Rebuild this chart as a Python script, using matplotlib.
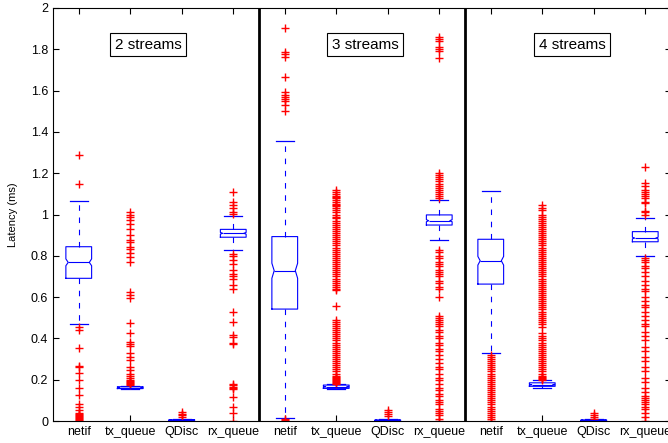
import matplotlib.pyplot as plt
import numpy as np

plt.rcParams['font.family'] = ['Liberation Sans', 'DejaVu Sans']

labels = ['netif', 'tx_queue', 'QDisc', 'rx_queue'] * 3
streams = ['2 streams', '3 streams', '4 streams']

# box statistics (ms)
whislo = [0.468, 0.153, 0.0, 0.828, 0.013, 0.155, 0.0, 0.877, 0.331, 0.158, 0.0, 0.799]
q1 = [0.691, 0.157, 0.002, 0.890, 0.542, 0.158, 0.001, 0.949, 0.663, 0.168, 0.001, 0.868]
med = [0.768, 0.161, 0.004, 0.909, 0.728, 0.166, 0.003, 0.970, 0.776, 0.176, 0.003, 0.886]
q3 = [0.844, 0.166, 0.006, 0.928, 0.893, 0.174, 0.005, 0.998, 0.880, 0.185, 0.005, 0.917]
whishi = [1.064, 0.171, 0.010, 0.993, 1.357, 0.178, 0.008, 1.070, 1.114, 0.199, 0.008, 0.982]
cilo = [0.752, 0.159, 0.003, 0.905, 0.691, 0.164, 0.002, 0.965, 0.755, 0.174, 0.002, 0.882]
cihi = [0.785, 0.163, 0.005, 0.913, 0.764, 0.168, 0.004, 0.975, 0.797, 0.178, 0.004, 0.890]

fliers = [
    # 2 streams
    [1.29, 1.146, 0.454, 0.44, 0.355, 0.268, 0.262, 0.234, 0.199, 0.161, 0.124, 0.081,
     0.07, 0.055, 0.04, 0.035, 0.03, 0.025, 0.02, 0.015, 0.01, 0.005, 0.0],
    [1.01, 1.0, 0.99, 0.973, 0.954, 0.928, 0.9, 0.877, 0.865, 0.844, 0.831, 0.812, 0.796,
     0.771, 0.626, 0.61, 0.594, 0.476, 0.428, 0.384, 0.373, 0.363, 0.328, 0.308, 0.295,
     0.263, 0.247, 0.23, 0.22, 0.21, 0.2, 0.195, 0.19, 0.185, 0.18, 0.175],
    [0.045, 0.035, 0.03, 0.02],
    [1.11, 1.062, 1.046, 1.03, 1.014, 1.001, 0.81, 0.80, 0.78, 0.76, 0.73, 0.71, 0.70,
     0.69, 0.66, 0.64, 0.53, 0.48, 0.415, 0.405, 0.38, 0.375, 0.18, 0.175, 0.165, 0.16,
     0.155, 0.115, 0.07, 0.04, 0.0],
    # 3 streams
    [1.905, 1.785, 1.775, 1.764, 1.668, 1.595, 1.58, 1.57, 1.56, 1.55, 1.53, 1.5,
     0.008, 0.004],
    [1.12, 1.11, 1.1, 1.09, 1.085, 1.08, 1.07, 1.06, 1.05, 1.045, 1.04, 1.03, 1.02, 1.01,
     1.0, 0.99, 0.985, 0.97, 0.96, 0.95, 0.94, 0.93, 0.92, 0.91, 0.9, 0.89, 0.88, 0.87,
     0.86, 0.85, 0.84, 0.83, 0.82, 0.81, 0.8, 0.79, 0.78, 0.77, 0.76, 0.75, 0.74, 0.73,
     0.72, 0.71, 0.7, 0.69, 0.68, 0.67, 0.66, 0.65, 0.64, 0.634, 0.557, 0.49, 0.48, 0.47,
     0.46, 0.45, 0.44, 0.43, 0.42, 0.41, 0.4, 0.39, 0.38, 0.37, 0.36, 0.35, 0.34, 0.33,
     0.32, 0.31, 0.3, 0.29, 0.28, 0.27, 0.26, 0.25, 0.24, 0.23, 0.22, 0.215, 0.21, 0.205,
     0.2, 0.195, 0.19, 0.185, 0.18],
    [0.055, 0.045, 0.035, 0.025],
    [1.86, 1.85, 1.84, 1.81, 1.80, 1.79, 1.76, 1.2, 1.19, 1.18, 1.17, 1.16, 1.15, 1.14,
     1.13, 1.12, 1.11, 1.1, 1.09, 1.08, 0.83, 0.82, 0.8, 0.79, 0.77, 0.76, 0.75, 0.73,
     0.72, 0.71, 0.7, 0.68, 0.67, 0.65, 0.64, 0.6, 0.51, 0.5, 0.49, 0.48, 0.47, 0.46,
     0.44, 0.43, 0.41, 0.4, 0.38, 0.37, 0.35, 0.34, 0.32, 0.3, 0.28, 0.26, 0.25, 0.23,
     0.21, 0.2, 0.18, 0.16, 0.15, 0.13, 0.12, 0.1, 0.09, 0.08, 0.06, 0.05, 0.04, 0.03,
     0.01, 0.0],
    # 4 streams
    [0.32, 0.31, 0.3, 0.29, 0.28, 0.27, 0.26, 0.25, 0.24, 0.23, 0.22, 0.21, 0.2, 0.19,
     0.18, 0.17, 0.16, 0.15, 0.14, 0.13, 0.12, 0.11, 0.1, 0.09, 0.08, 0.07, 0.06, 0.05,
     0.04, 0.03, 0.02, 0.01, 0.0],
    [1.045, 1.03, 1.02, 1.0, 0.99, 0.98, 0.97, 0.96, 0.95, 0.94, 0.93, 0.92, 0.91, 0.9,
     0.89, 0.88, 0.87, 0.86, 0.85, 0.84, 0.83, 0.82, 0.81, 0.8, 0.79, 0.78, 0.77, 0.76,
     0.75, 0.74, 0.73, 0.72, 0.71, 0.7, 0.69, 0.68, 0.67, 0.66, 0.65, 0.64, 0.63, 0.62,
     0.61, 0.6, 0.59, 0.58, 0.57, 0.56, 0.55, 0.54, 0.53, 0.52, 0.51, 0.5, 0.49, 0.48,
     0.47, 0.457, 0.426, 0.41, 0.4, 0.39, 0.38, 0.37, 0.36, 0.35, 0.34, 0.33, 0.32, 0.31,
     0.3, 0.29, 0.28, 0.27, 0.26, 0.25, 0.24, 0.23, 0.22, 0.215, 0.21, 0.205, 0.2],
    [0.04, 0.03, 0.02, 0.01],
    [1.229, 1.151, 1.14, 1.12, 1.11, 1.1, 1.09, 1.08, 1.06, 1.054, 1.017, 1.01, 1.0,
     0.79, 0.78, 0.77, 0.75, 0.74, 0.72, 0.7, 0.68, 0.66, 0.64, 0.63, 0.6, 0.58, 0.56,
     0.55, 0.53, 0.51, 0.49, 0.47, 0.46, 0.43, 0.41, 0.39, 0.36, 0.34, 0.31, 0.29, 0.26,
     0.24, 0.21, 0.19, 0.16, 0.14, 0.12, 0.11, 0.1, 0.09, 0.08, 0.07, 0.06, 0.04, 0.02,
     0.0],
]

yticks = [0, 0.2, 0.4, 0.6, 0.8, 1, 1.2, 1.4, 1.6, 1.8, 2]
ytick_labels = ['0', '0.2', '0.4', '0.6', '0.8', '1', '1.2', '1.4', '1.6', '1.8', '2']

stats = []
for i in range(len(labels)):
    stats.append(dict(label=labels[i], med=med[i], q1=q1[i], q3=q3[i],
                      whislo=whislo[i], whishi=whishi[i],
                      cilo=cilo[i], cihi=cihi[i], fliers=fliers[i]))

positions = np.arange(1, len(labels) + 1)
width = 0.5

fig = plt.figure(figsize=(6.68, 4.43), dpi=100)
ax = fig.add_axes([53 / 668, 22 / 443, 618 / 668, 413 / 443])

bp = ax.bxp(stats, positions=positions, widths=width, capwidths=0.35,
            shownotches=True,
            boxprops=dict(color='blue', linewidth=0.8),
            whiskerprops=dict(color='blue', linewidth=0.8, linestyle=(0, (5, 6))),
            capprops=dict(color='blue', linewidth=0.9),
            medianprops=dict(color='blue', linewidth=0.8),
            flierprops=dict(marker='+', markeredgecolor='red', markersize=6,
                            markeredgewidth=1.0, linestyle='none'))

# shallower notches, like the original
indent = 0.045
for box, m, p in zip(bp['boxes'], bp['medians'], positions):
    xs = np.array(box.get_xdata(), dtype=float)
    inner = np.isclose(np.abs(xs - p), width / 4)
    xs[inner] = p + np.sign(xs[inner] - p) * (width / 2 - indent)
    box.set_xdata(xs)
    m.set_xdata([p - (width / 2 - indent), p + (width / 2 - indent)])

ax.axvline(4.5, color='black', linewidth=2)
ax.axvline(8.5, color='black', linewidth=2)

for x, s in zip([2.345, 6.558, 10.584], streams):
    ax.text(x, 1.823, s, ha='center', va='center', fontsize=11,
            bbox=dict(facecolor='white', edgecolor='black', linewidth=0.8,
                      boxstyle='square,pad=0.3'))

ax.set_xlim(0.5, 12.5)
ax.set_ylim(0, 2)
ax.set_yticks(yticks)
ax.set_yticklabels(ytick_labels)
ax.set_xticks(positions)
ax.set_xticklabels(labels)
ax.tick_params(direction='in', top=True, right=True, length=4, labelsize=9, width=0.8)
ax.set_ylabel('Latency (ms)', fontsize=8)
ax.yaxis.set_label_coords(-0.057, 0.5)
for sp in ax.spines.values():
    sp.set_linewidth(0.8)

fig.savefig('out.png', dpi=100)
